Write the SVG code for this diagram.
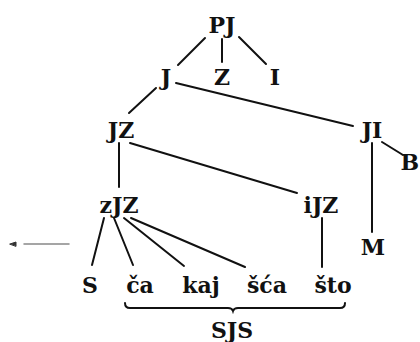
<svg xmlns="http://www.w3.org/2000/svg" width="420" height="342" viewBox="0 0 420 342">
<style>
text{font-family:"DejaVu Serif","Liberation Serif",serif;font-weight:bold;font-size:22px;fill:#111;text-anchor:middle}
.c line,.c path{stroke:#111;stroke-width:2;fill:none;stroke-linecap:round}
</style>
<rect width="420" height="342" fill="#fff"/>
<g class="c" id="connectors">
<line x1="205" y1="38" x2="178" y2="65"/>
<line x1="222" y1="39" x2="222" y2="62"/>
<line x1="239" y1="37" x2="266" y2="64"/>
<line x1="156" y1="88" x2="129" y2="113"/>
<line x1="176" y1="83" x2="353" y2="126"/>
<line x1="382" y1="142" x2="403" y2="155"/>
<line x1="372" y1="143" x2="372" y2="232"/>
<line x1="119" y1="143" x2="119" y2="187"/>
<line x1="130" y1="143" x2="297" y2="193"/>
<line x1="322" y1="218" x2="322" y2="267"/>
<line x1="104" y1="218" x2="92" y2="265"/>
<line x1="114" y1="218" x2="133" y2="265"/>
<line x1="124" y1="218" x2="184" y2="266"/>
<line x1="131" y1="218" x2="245" y2="267"/>
<path d="M125,303 Q125,308 130,308 L228,308 Q232,308 233,311 Q234,308 238,308 L340,308 Q345,308 345,303" stroke-width="1.6"/>
<line x1="24" y1="244" x2="69" y2="244" style="stroke:#888;stroke-width:1.5"/>
<path d="M10,244 L16,242 L16,246 Z" style="fill:#333;stroke:#333;stroke-width:1"/>
</g>
<g id="PJ"><text x="222" y="33">PJ</text></g>
<g id="J"><text x="166" y="85">J</text></g>
<g id="Z"><text x="222" y="85">Z</text></g>
<g id="I"><text x="275" y="85">I</text></g>
<g id="JZ"><text x="121" y="138">JZ</text></g>
<g id="JI"><text x="372" y="138">JI</text></g>
<g id="B"><text x="419" y="170" style="text-anchor:end">B</text></g>
<g id="zJZ"><text x="119" y="213">zJZ</text></g>
<g id="iJZ"><text x="321" y="213">iJZ</text></g>
<g id="M"><text x="373" y="255">M</text></g>
<g id="S"><text x="90" y="293">S</text></g>
<g id="ca"><text x="140" y="293">ča</text></g>
<g id="kaj"><text x="201" y="293">kaj</text></g>
<g id="sca"><text x="267" y="293">šća</text></g>
<g id="sto"><text x="333" y="293">što</text></g>
<g id="SJS"><text x="232" y="338">SJS</text></g>
</svg>
